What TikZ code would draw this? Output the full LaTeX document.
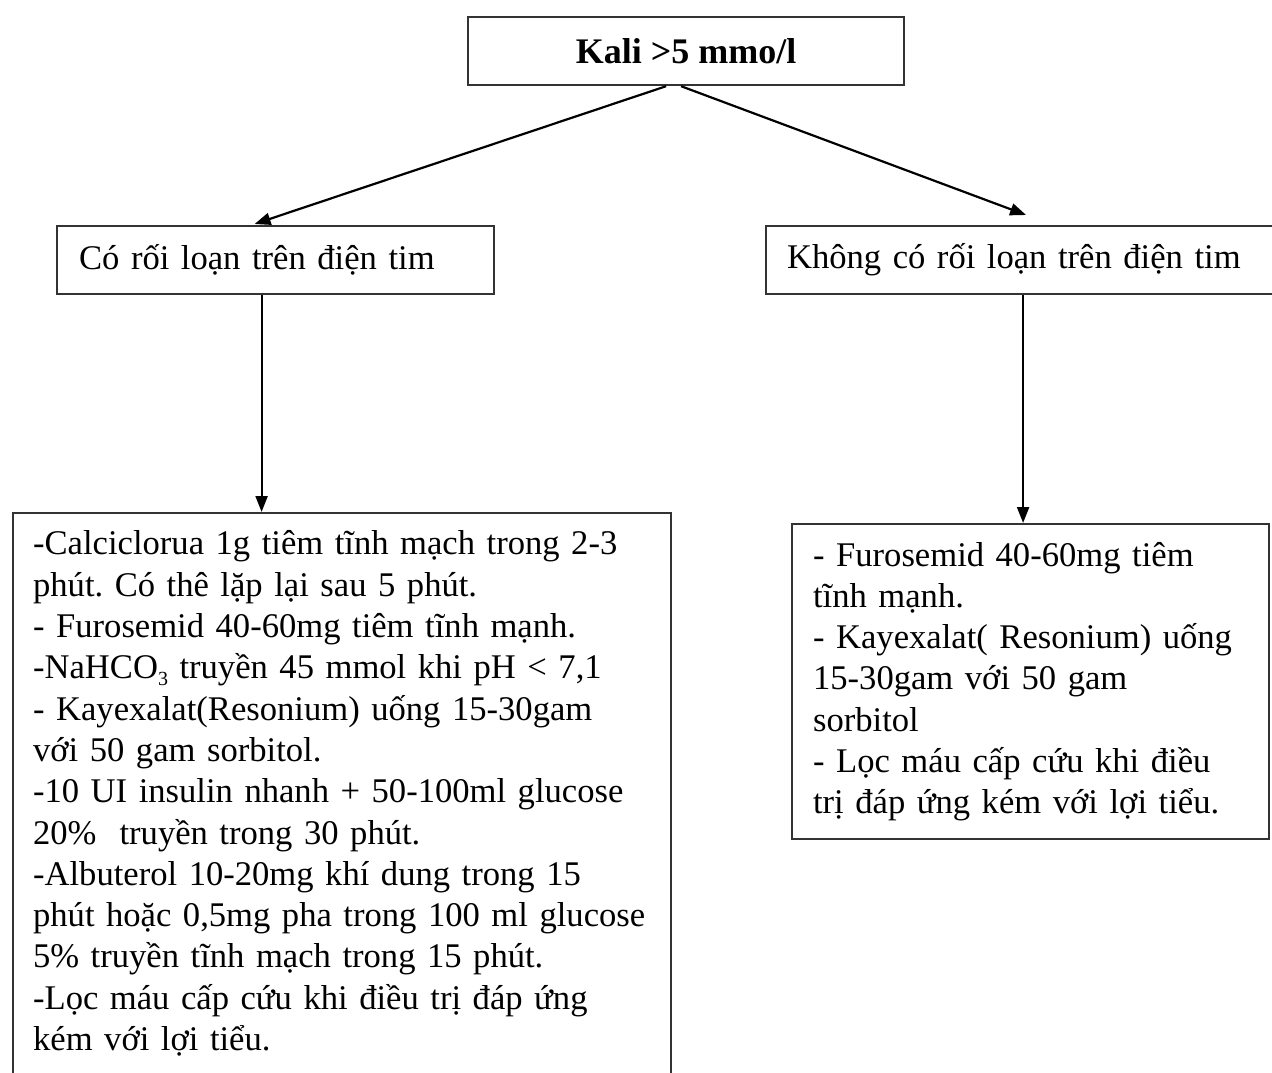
\documentclass[tikz,border=0pt]{standalone}
\usepackage{fontspec}
\setmainfont{Liberation Serif}
\usetikzlibrary{arrows.meta,calc}
\frenchspacing
\newcommand{\lowsub}[1]{\raisebox{-0.18em}{\fontsize{20}{20}\selectfont #1}}
\begin{document}
\begin{tikzpicture}[x=1pt,y=-1pt,
  box/.style={draw=black!80, line width=2.2pt, rectangle, anchor=north west},
  body/.style={font=\fontsize{34.6}{41.3}\selectfont},
  arr/.style={line width=2.2pt, -{Triangle[length=16pt,width=12pt]}}]
\useasboundingbox (0,0) rectangle (1272,1072);
\clip (0,0) rectangle (1272,1072);
\fill[white] (0,0) rectangle (1272,1072);

% root
\node[box, minimum width=436pt, minimum height=68pt, font=\bfseries\fontsize{36}{42}\selectfont]
  (root) at (467,16) {Kali >5 mmo/l};

% two branches
\node[box, body, minimum width=437pt, minimum height=68pt, inner xsep=22pt, text width=393pt, align=left]
  (ecg) at (56,225) {Có rối loạn trên điện tim};
\node[box, body, minimum width=520pt, minimum height=68pt, inner xsep=21pt, text width=478pt, align=left]
  (noecg) at (765,225) {Không có rối loạn trên điện tim};

% treatment boxes
\node[box, body, minimum width=658pt, minimum height=561pt, inner xsep=20pt, text width=618pt, align=left]
  (treatA) at (12,512) {\mbox{-Calciclorua 1g tiêm tĩnh mạch trong 2-3}\\
\mbox{phút. Có thê lặp lại sau 5 phút.}\\
\mbox{- Furosemid 40-60mg tiêm tĩnh mạnh.}\\
\mbox{-NaHCO\lowsub{3} truyền 45 mmol khi pH < 7,1}\\
\mbox{- Kayexalat(Resonium) uống 15-30gam}\\
\mbox{với 50 gam sorbitol.}\\
\mbox{-10 UI insulin nhanh + 50-100ml glucose}\\
\mbox{20\%\ \ truyền trong 30 phút.}\\
\mbox{-Albuterol 10-20mg khí dung trong 15}\\
\mbox{phút hoặc 0,5mg pha trong 100 ml glucose}\\
\mbox{5\% truyền tĩnh mạch trong 15 phút.}\\
\mbox{-Lọc máu cấp cứu khi điều trị đáp ứng}\\
\mbox{kém với lợi tiểu.}};
\node[box, body, minimum width=477pt, minimum height=315pt, inner xsep=21pt, text width=435pt, align=left]
  (treatB) at (791,523) {\mbox{- Furosemid 40-60mg tiêm}\\
\mbox{tĩnh mạnh.}\\
\mbox{- Kayexalat( Resonium) uống}\\
\mbox{15-30gam với 50 gam}\\
\mbox{sorbitol}\\
\mbox{- Lọc máu cấp cứu khi điều}\\
\mbox{trị đáp ứng kém với lợi tiểu.}};

% connectors
\draw[arr] ($(root.south)+(-20,0)$) -- ($(ecg.north)+(-21,-1)$);
\draw[arr] ($(root.south)+(-5,0)$) -- ($(noecg.north)+(0,-10)$);
\coordinate (dl) at ($(ecg.south)+(-14,0)$);
\draw[arr] (dl) -- (dl |- treatA.north);
\coordinate (dr) at ($(noecg.south)+(-3,0)$);
\draw[arr] (dr) -- (dr |- treatB.north);
\end{tikzpicture}
\end{document}
